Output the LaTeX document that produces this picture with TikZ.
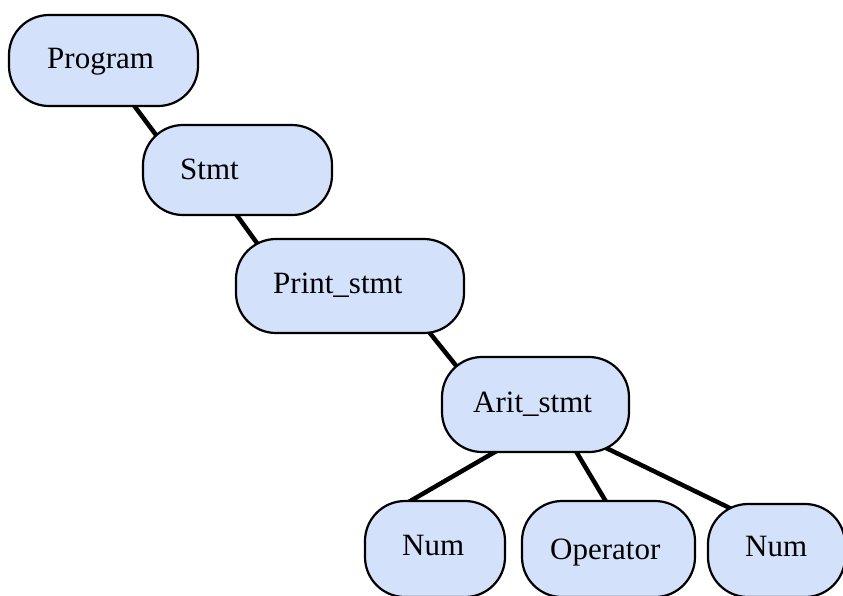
\documentclass[tikz,border=0pt]{standalone}
\usepackage{fontspec}
\setmainfont{Liberation Serif}
\usetikzlibrary{calc}
\definecolor{boxfill}{RGB}{212,225,250}
\tikzset{
  box/.style={draw=black, line width=2.2pt, fill=boxfill, rounded corners=40pt,
    inner sep=0pt, outer sep=0pt},
  lbl/.style={anchor=base west, inner sep=0pt, font=\fontsize{31}{36}\selectfont},
  edge/.style={draw=black, line width=4.5pt},
}
\begin{document}
\begin{tikzpicture}[x=1pt, y=-1pt]
\useasboundingbox (0,0) rectangle (843,595);
\clip (0,0) rectangle (843,595);

% box corners (the boxes are drawn after the connectors)
\path (9,15)    coordinate (prog1) (198,106) coordinate (prog2);
\path (143,125) coordinate (stmt1) (332,215) coordinate (stmt2);
\path (236,239) coordinate (prnt1) (464,333) coordinate (prnt2);
\path (442,357) coordinate (arit1) (629,452) coordinate (arit2);
\path (365,501) coordinate (numa1) (505,597) coordinate (numa2);
\path (522,501) coordinate (oper1) (695,597) coordinate (oper2);
\path (708,504) coordinate (numb1) (845,597) coordinate (numb2);

% connectors
\draw[edge] (127,96)  coordinate (e1a) -- (162,143) coordinate (e1b);
\draw[edge] (228,203) coordinate (e2a) -- (262,250) coordinate (e2b);
\draw[edge] (425,327) coordinate (e3a) -- (462,373) coordinate (e3b);
\draw[edge] (500,449) coordinate (e4a) -- (400,507) coordinate (e4b);
\draw[edge] (574,448) coordinate (e5a) -- (611,510) coordinate (e5b);
\draw[edge] (600,445) coordinate (e6a) -- (740,513) coordinate (e6b);

% boxes
\draw[box] (prog1) rectangle (prog2);
\draw[box] (stmt1) rectangle (stmt2);
\draw[box] (prnt1) rectangle (prnt2);
\draw[box] (arit1) rectangle (arit2);
\draw[box] (numa1) rectangle (numa2);
\draw[box] (oper1) rectangle (oper2);
\draw[box] (numb1) rectangle (numb2);

% labels
\node[lbl] (tprog) at (47,68)   {Program};
\node[lbl] (tstmt) at (180,179) {Stmt};
\node[lbl] (tprnt) at (273,293) {Print\_stmt};
\node[lbl] (tarit) at (473,412) {Arit\_stmt};
\node[lbl] (tnuma) at (402,555) {Num};
\node[lbl] (toper) at (550,559) {Operator};
\node[lbl] (tnumb) at (745,556) {Num};
\end{tikzpicture}
\end{document}
